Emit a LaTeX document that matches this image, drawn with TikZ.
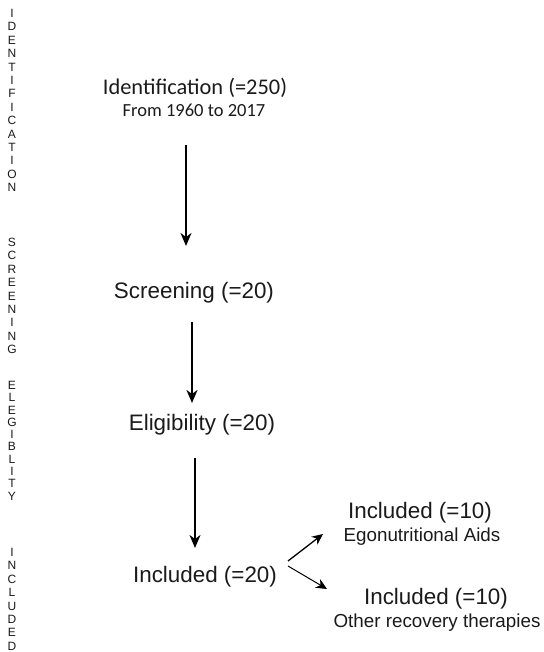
\documentclass[tikz,border=0pt]{standalone}
\usepackage{fontspec}
\setmainfont{Liberation Sans}
\newfontfamily\calibrifont{Carlito}
\usetikzlibrary{arrows.meta, positioning}
\definecolor{inkGray}{HTML}{1A1A1A}

\begin{document}
\begin{tikzpicture}[
    x=1pt, y=-1pt,
    every node/.style={inner sep=0pt, text=inkGray},
    stage/.style={font=\fontsize{22.4}{26}\selectfont, anchor=base},
    note/.style={font=\fontsize{18.8}{22}\selectfont, anchor=base},
    sidebar/.style={font=\fontsize{12}{13.4}\selectfont, align=center, anchor=north},
    flow/.style={draw, line width=2pt, -{Stealth[length=13pt, width=11pt, inset=4pt]}},
    branch/.style={draw, line width=1.3pt, -{Stealth[length=11pt, width=10pt, inset=3.5pt]}},
]
\useasboundingbox (0,0) rectangle (543,652);

% phase labels on the left
\node[sidebar] (sideIdent) at (12,9) {I\\D\\E\\N\\T\\I\\F\\I\\C\\A\\T\\I\\O\\N};
\node[sidebar] (sideScreen) at (12,238) {S\\C\\R\\E\\E\\N\\I\\N\\G};
\node[sidebar, font=\fontsize{12}{12.3}\selectfont] (sideElig) at (12,381) {E\\L\\E\\G\\I\\B\\L\\I\\T\\Y};
\node[sidebar] (sideIncl) at (12,548) {I\\N\\C\\L\\U\\D\\E\\D};

% stages
\node[stage, font=\calibrifont\fontsize{22.4}{26}\selectfont] (ident) at (195,95) {Identification (=250)};
\node[note, font=\calibrifont\fontsize{18.5}{22}\selectfont] (identSub) at (194,117) {From 1960 to 2017};
\node[stage] (screen) at (194,298) {Screening (=20)};
\node[stage] (elig) at (202,430) {Eligibility (=20)};
\node[stage] (incl) at (205,582) {Included (=20)};
\node[stage] (inclAids) at (420,518) {Included (=10)};
\node[note] (inclAidsSub) at (422,541) {Egonutritional Aids};
\node[stage] (inclOther) at (436,604) {Included (=10)};
\node[note] (inclOtherSub) at (437,627) {Other recovery therapies};

% arrow ends
\coordinate (identOut) at (186,145);
\coordinate (screenIn) at (186,246);
\coordinate (screenOut) at (192,322);
\coordinate (eligIn) at (192,403);
\coordinate (eligOut) at (195,458);
\coordinate (inclIn) at (195,548);
\coordinate (splitUp) at (288,561);
\coordinate (aidsIn) at (323,534);
\coordinate (splitDown) at (288,566);
\coordinate (otherIn) at (327,589);

\draw[flow] (identOut) -- (screenIn);
\draw[flow] (screenOut) -- (eligIn);
\draw[flow] (eligOut) -- (inclIn);
\draw[branch] (splitUp) -- (aidsIn);
\draw[branch, line width=1pt] (splitDown) -- (otherIn);
\end{tikzpicture}
\end{document}
